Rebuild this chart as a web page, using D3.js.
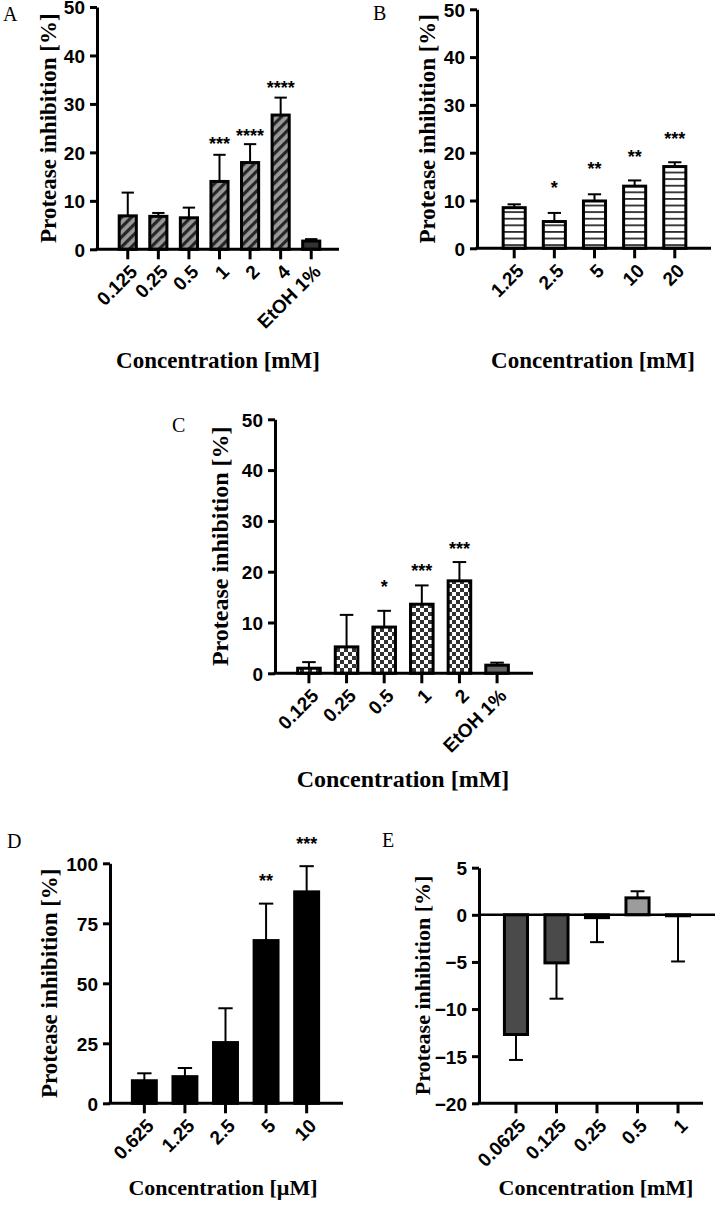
<!DOCTYPE html>
<html>
<head>
<meta charset="utf-8">
<script src="https://cdn.jsdelivr.net/npm/d3@7"></script>
<style>
  html, body { margin: 0; padding: 0; background: #fff; }
  svg { display: block; }
</style>
</head>
<body>
<div id="chart"></div>
<script>
// ---------------- DATA ----------------
// Panel A
const catsA = ["0.125", "0.25", "0.5", "1", "2", "4", "EtOH 1%"];
const meanA = [6.9, 6.8, 6.5, 14.0, 17.9, 27.7, 1.7];
const sdA   = [4.8, 0.7, 2.1, 5.5, 3.8, 3.6, 0.4];
const sigA  = ["", "", "", "***", "****", "****", ""];
const sigYA = [0, 0, 0, 22.5, 24.3, 34.2, 0];
const ticksA = [0, 10, 20, 30, 40, 50];

// Panel B
const catsB = ["1.25", "2.5", "5", "10", "20"];
const meanB = [8.5, 5.6, 9.9, 13.0, 17.1];
const sdB   = [0.7, 1.8, 1.4, 1.2, 0.9];
const sigB  = ["", "*", "**", "**", "***"];
const sigYB = [0, 13.45, 17.4, 20.0, 23.7];
const ticksB = [0, 10, 20, 30, 40, 50];

// Panel C
const catsC = ["0.125", "0.25", "0.5", "1", "2", "EtOH 1%"];
const meanC = [1.0, 5.2, 9.1, 13.6, 18.2, 1.6];
const sdC   = [1.2, 6.3, 3.2, 3.7, 3.7, 0.5];
const sigC  = ["", "", "*", "***", "***", ""];
const sigYC = [0, 0, 17.8, 21.0, 25.3, 0];
const ticksC = [0, 10, 20, 30, 40, 50];

// Panel D
const catsD = ["0.625", "1.25", "2.5", "5", "10"];
const meanD = [9.4, 11.1, 25.3, 67.8, 88.1];
const sdD   = [3.1, 3.6, 14.3, 15.4, 10.7];
const sigD  = ["", "", "", "**", "***"];
const sigYD = [0, 0, 0, 94.3, 109.7];
const ticksD = [0, 25, 50, 75, 100];

// Panel E
const catsE = ["0.0625", "0.125", "0.25", "0.5", "1"];
const meanE = [-12.7, -5.1, -0.3, 1.8, -0.1];
const sdE   = [2.7, 3.8, 2.6, 0.7, 4.85];
const ticksE = [-20, -15, -10, -5, 0, 5];

const yTitle = "Protease inhibition [%]";
const xTitleMM = "Concentration [mM]";
const xTitleUM = "Concentration [\u00B5M]";

// ---------------- SETUP ----------------
const W = 716, H = 1205;
const svg = d3.select("#chart").append("svg").attr("width", W).attr("height", H);
const defs = svg.append("defs");

// diagonal hatch
const ph = defs.append("pattern").attr("id", "hatch").attr("patternUnits", "userSpaceOnUse")
  .attr("width", 7).attr("height", 7).attr("patternTransform", "rotate(45)");
ph.append("rect").attr("width", 7).attr("height", 7).attr("fill", "#9a9a9a");
ph.append("rect").attr("width", 3.2).attr("height", 7).attr("fill", "#262626");

// horizontal lines
const pl = defs.append("pattern").attr("id", "hlines").attr("patternUnits", "userSpaceOnUse")
  .attr("width", 10).attr("height", 6.6);
pl.append("rect").attr("width", 10).attr("height", 6.6).attr("fill", "#fff");
pl.append("rect").attr("y", 0).attr("width", 10).attr("height", 1.8).attr("fill", "#2e2e2e");

// checker
const pc = defs.append("pattern").attr("id", "checker").attr("patternUnits", "userSpaceOnUse")
  .attr("width", 8).attr("height", 8);
pc.append("rect").attr("width", 8).attr("height", 8).attr("fill", "#fff");
pc.append("rect").attr("width", 4).attr("height", 4).attr("fill", "#333");
pc.append("rect").attr("x", 4).attr("y", 4).attr("width", 4).attr("height", 4).attr("fill", "#333");

const SANS = "'Liberation Sans', Arial, sans-serif";
const SERIF = "'Liberation Serif', 'Times New Roman', serif";
const TICK_FS = 19;

function panel(o) {
  const g = svg.append("g");
  const x = d3.scaleBand().domain(o.cats).range(o.xRange).padding(o.pad);
  const y = d3.scaleLinear().domain(o.yDomain).range(o.yRange);
  const axisX = o.axisX;
  const baseY = y(0);
  const data = o.cats.map((c, i) => ({ c, i, v: o.mean[i], sd: o.sd[i],
    sig: o.sig ? o.sig[i] : "", sy: o.sigY ? o.sigY[i] : 0 }));

  // bars
  g.selectAll("rect.bar").data(data).join("rect")
    .attr("class", "bar")
    .attr("x", d => x(d.c))
    .attr("width", x.bandwidth())
    .attr("y", d => Math.min(y(d.v), baseY))
    .attr("height", d => Math.abs(y(d.v) - baseY))
    .attr("fill", d => o.fill(d))
    .attr("stroke", "#000")
    .attr("stroke-width", 3);

  // error bars
  const cx = d => x(d.c) + x.bandwidth() / 2;
  const capW = x.bandwidth() * o.cap;
  const eTop = d => y(d.v + (d.v >= 0 ? d.sd : -d.sd));
  g.selectAll("line.err").data(data).join("line")
    .attr("x1", cx).attr("x2", cx)
    .attr("y1", d => y(d.v)).attr("y2", eTop)
    .attr("stroke", "#000").attr("stroke-width", 2);
  g.selectAll("line.cap").data(data).join("line")
    .attr("x1", d => cx(d) - capW / 2).attr("x2", d => cx(d) + capW / 2)
    .attr("y1", eTop).attr("y2", eTop)
    .attr("stroke", "#000").attr("stroke-width", 2);

  // significance stars
  g.selectAll("text.sig").data(data.filter(d => d.sig)).join("text")
    .attr("x", cx).attr("y", d => y(d.sy) + 10)
    .attr("text-anchor", "middle")
    .attr("font-family", SANS).attr("font-weight", "bold").attr("font-size", 18)
    .text(d => d.sig);

  // y axis
  const ya = g.append("g").attr("transform", `translate(${axisX},0)`)
    .call(d3.axisLeft(y).tickValues(o.yTicks).tickSize(7).tickSizeOuter(0).tickPadding(5));
  ya.select(".domain").attr("stroke-width", 3);
  ya.selectAll(".tick line").attr("stroke-width", 3);
  ya.selectAll(".tick text").attr("font-family", SANS).attr("font-weight", "bold")
    .attr("font-size", TICK_FS).attr("fill", "#000").attr("dy", "0.36em");

  // zero line (if x axis sits elsewhere)
  const xAxisY = o.xAxisAt !== undefined ? y(o.xAxisAt) : baseY;
  if (o.xAxisAt !== undefined) {
    g.append("line").attr("x1", axisX).attr("x2", o.zeroEnd)
      .attr("y1", baseY).attr("y2", baseY).attr("stroke", "#000").attr("stroke-width", 2.5);
  }

  // x axis
  g.append("line").attr("x1", axisX - 1.5).attr("x2", o.axisEnd)
    .attr("y1", xAxisY).attr("y2", xAxisY).attr("stroke", "#000").attr("stroke-width", 3);
  g.selectAll("line.xt").data(data).join("line")
    .attr("x1", cx).attr("x2", cx).attr("y1", xAxisY).attr("y2", xAxisY + 10)
    .attr("stroke", "#000").attr("stroke-width", 3);
  g.selectAll("text.xl").data(data).join("text")
    .attr("transform", d => `translate(${cx(d) + 6},${xAxisY + 19}) rotate(-45)`)
    .attr("text-anchor", "end").attr("dy", "0.35em")
    .attr("font-family", SANS).attr("font-weight", "bold").attr("font-size", TICK_FS)
    .text(d => d.c);

  // y title
  g.append("text")
    .attr("transform", `translate(${o.yTitleX},${(o.yRange[0] + o.yRange[1]) / 2}) rotate(-90)`)
    .attr("text-anchor", "middle").attr("dy", "0.32em")
    .attr("font-family", SERIF).attr("font-weight", "bold").attr("font-size", o.titleSize)
    .text(yTitle);

  // x title
  g.append("text").attr("x", o.xTitleX).attr("y", o.xTitleY)
    .attr("text-anchor", "middle")
    .attr("font-family", SERIF).attr("font-weight", "bold").attr("font-size", o.xTitleSize)
    .text(o.xTitle);

  // panel letter
  g.append("text").attr("x", o.letterX).attr("y", o.letterY)
    .attr("font-family", SERIF).attr("font-size", 20).text(o.letter);
}

panel({
  cats: catsA, mean: meanA, sd: sdA, sig: sigA, sigY: sigYA, yTicks: ticksA,
  xRange: [105.75, 333.25], pad: 0.44, yDomain: [0, 50], yRange: [249.3, 7],
  axisX: 97, axisEnd: 339, cap: 0.72,
  fill: d => d.c === "EtOH 1%" ? "#333" : "url(#hatch)",
  yTitleX: 49, titleSize: 23, xTitle: xTitleMM, xTitleX: 218, xTitleY: 368, xTitleSize: 23,
  letter: "A", letterX: 3, letterY: 21
});

panel({
  cats: catsB, mean: meanB, sd: sdB, sig: sigB, sigY: sigYB, yTicks: ticksB,
  xRange: [485.1, 703.9], pad: 0.45, yDomain: [0, 50], yRange: [248.3, 9.3],
  axisX: 477, axisEnd: 711, cap: 0.6,
  fill: d => "url(#hlines)",
  yTitleX: 428, titleSize: 23, xTitle: xTitleMM, xTitleX: 593, xTitleY: 368, xTitleSize: 23,
  letter: "B", letterX: 373, letterY: 20
});

panel({
  cats: catsC, mean: meanC, sd: sdC, sig: sigC, sigY: sigYC, yTicks: ticksC,
  xRange: [282.6, 523.4], pad: 0.40, yDomain: [0, 50], yRange: [673.3, 419.3],
  axisX: 275, axisEnd: 533, cap: 0.6,
  fill: d => d.c === "EtOH 1%" ? "#666" : "url(#checker)",
  yTitleX: 220, titleSize: 24, xTitle: xTitleMM, xTitleX: 403, xTitleY: 787, xTitleSize: 24,
  letter: "C", letterX: 172, letterY: 432
});

panel({
  cats: catsD, mean: meanD, sd: sdD, sig: sigD, sigY: sigYD, yTicks: ticksD,
  xRange: [115.75, 335.25], pad: 0.41, yDomain: [0, 100], yRange: [1103.3, 863.3],
  axisX: 110, axisEnd: 343, cap: 0.6,
  fill: d => "#000",
  yTitleX: 50, titleSize: 23, xTitle: xTitleUM, xTitleX: 223, xTitleY: 1195, xTitleSize: 22,
  letter: "D", letterX: 7, letterY: 848
});

panel({
  cats: catsE, mean: meanE, sd: sdE, yTicks: ticksE,
  xRange: [487, 707], pad: 0.43, yDomain: [-20, 5], yRange: [1103.3, 867.7],
  axisX: 479, axisEnd: 703, cap: 0.6, xAxisAt: -20, zeroEnd: 715,
  fill: d => d.v > 0 ? "#9c9c9c" : "#4a4a4a",
  yTitleX: 423, titleSize: 22, xTitle: xTitleMM, xTitleX: 596, xTitleY: 1195, xTitleSize: 22,
  letter: "E", letterX: 382, letterY: 847
});
</script>
</body>
</html>
